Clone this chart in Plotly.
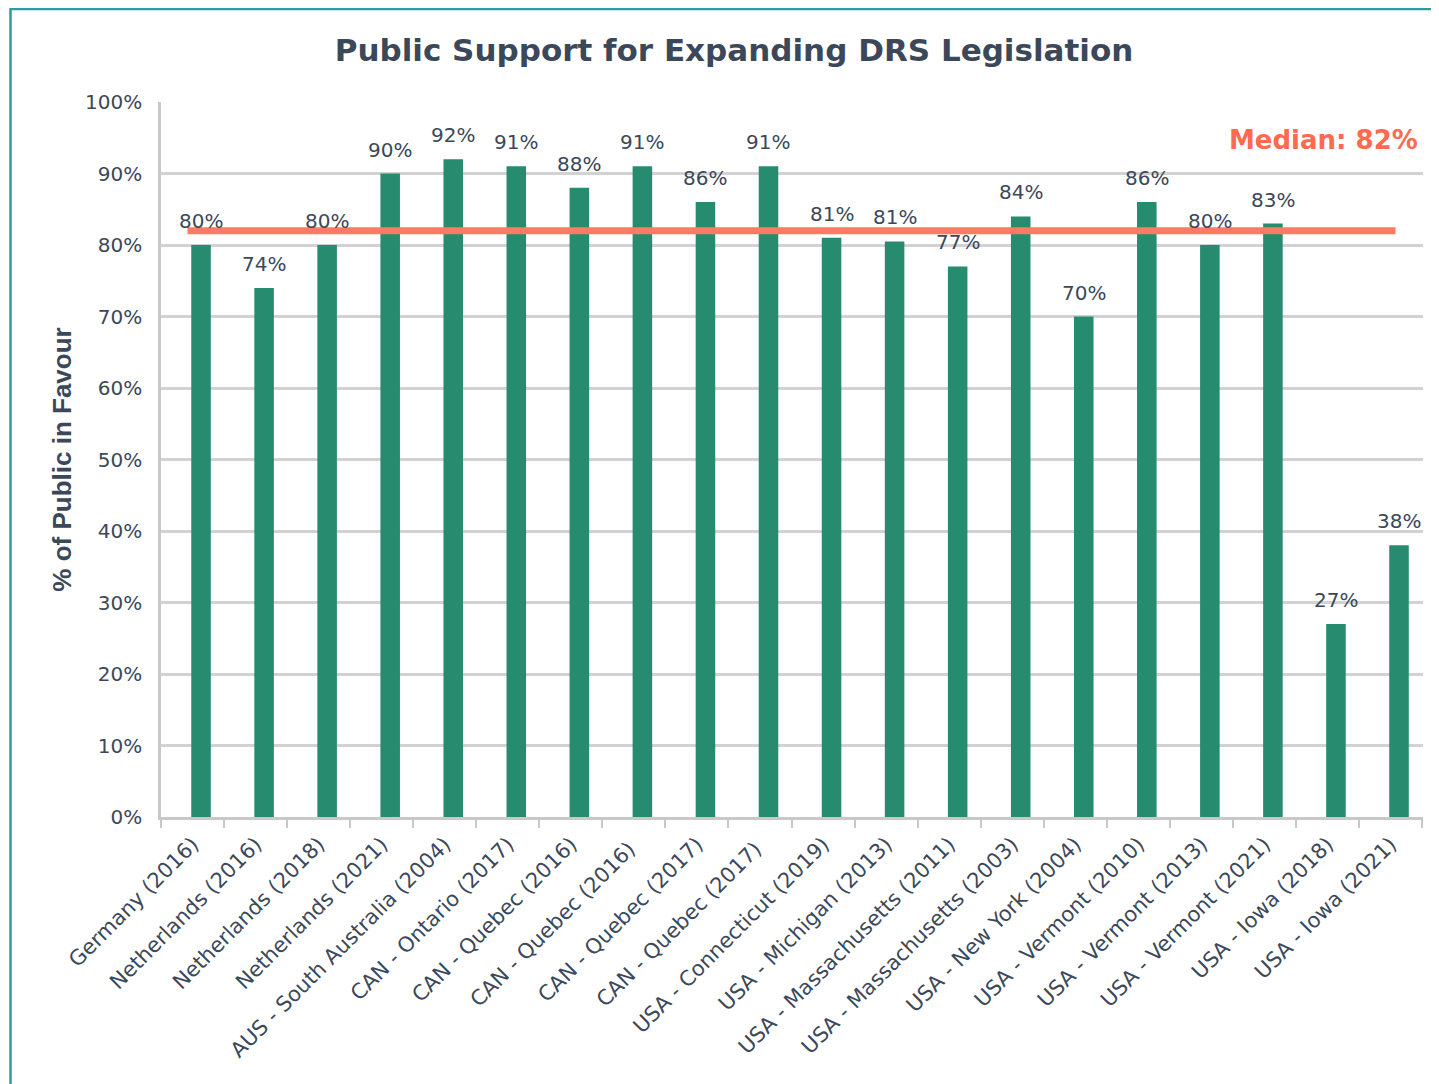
import plotly.graph_objects as go

categories = [
    "Germany (2016)", "Netherlands (2016)", "Netherlands (2018)", "Netherlands (2021)",
    "AUS - South Australia (2004)", "CAN - Ontario (2017)", "CAN - Quebec (2016)",
    "CAN - Quebec (2016) ", "CAN - Quebec (2017)", "CAN - Quebec (2017) ",
    "USA - Connecticut (2019)", "USA - Michigan (2013)", "USA - Massachusetts (2011)",
    "USA - Massachusetts (2003)", "USA - New York (2004)", "USA - Vermont (2010)",
    "USA - Vermont (2013)", "USA - Vermont (2021)", "USA - Iowa (2018)", "USA - Iowa (2021)",
]
values = [80, 74, 80, 90, 92, 91, 88, 91, 86, 91, 81, 80.5, 77, 84, 70, 86, 80, 83, 27, 38]
value_labels = ["80%", "74%", "80%", "90%", "92%", "91%", "88%", "91%", "86%", "91%",
                "81%", "81%", "77%", "84%", "70%", "86%", "80%", "83%", "27%", "38%"]
median_value = 82
median_label = "Median: 82%"
title_text = "Public Support for Expanding DRS Legislation"
y_title = "% of Public in Favour"
y_ticks = [0, 10, 20, 30, 40, 50, 60, 70, 80, 90, 100]
y_tick_labels = ["0%", "10%", "20%", "30%", "40%", "50%", "60%", "70%", "80%", "90%", "100%"]

FONT = "DejaVu Sans"
TEXT = "#3b4859"
BAR = "#268b6f"
MEDIAN = "#ff7a62"

# page geometry (browser body has an 8px margin)
W, H = 1431, 1076
PL, PR, PT, PB = 161, 1423, 102, 817   # plot area in page pixels
PW, PH = PR - PL, PB - PT

fig = go.Figure()
fig.add_trace(go.Bar(
    x=categories, y=values, width=0.31, offset=-0.02,
    marker=dict(color=BAR, line=dict(width=0)),
    hoverinfo="x+y", showlegend=False,
))

for c, v, t in zip(categories, values, value_labels):
    fig.add_annotation(x=c, y=v, text=t, showarrow=False, xshift=8.5, yshift=24,
                       yanchor="middle", font=dict(family=FONT, size=20, color=TEXT))

# median line
fig.add_shape(type="line", xref="x", yref="y", x0=-0.08, x1=19.08,
              y0=median_value, y1=median_value,
              line=dict(color=MEDIAN, width=7), layer="above")
fig.add_annotation(xref="paper", yref="paper", x=1.0, y=(PB - 140) / PH, xshift=-3,
                   text=median_label, showarrow=False, xanchor="right", yanchor="middle",
                   font=dict(family=FONT, size=26, color="#ff6a50", weight="bold"))

# frame
fig.add_shape(type="rect", xref="paper", yref="paper",
              x0=(10.5 - PL) / PW, x1=(1470 - PL) / PW,
              y0=(PB - 1110) / PH, y1=(PB - 9) / PH,
              line=dict(color="#2a9e9b", width=2.5), fillcolor="rgba(0,0,0,0)", layer="below")

fig.update_layout(
    width=W, height=H,
    margin=dict(l=PL - 8, r=W + 8 - PR, t=PT - 8, b=H + 8 - PB),
    paper_bgcolor="white", plot_bgcolor="white",
    title=dict(text=title_text, x=(734 - 8) / W, xanchor="center", y=1 - (50 - 8) / H,
               yanchor="middle",
               font=dict(family=FONT, size=31, color=TEXT, weight="bold")),
)
fig.update_yaxes(
    range=[0, 100], tickmode="array", tickvals=y_ticks, ticktext=y_tick_labels,
    showgrid=True, gridcolor="#d2d2d2", gridwidth=2.5,
    showline=True, linecolor="#c8c8c8", linewidth=2.5,
    ticks="", ticklabelstandoff=12, tickfont=dict(family=FONT, size=20, color=TEXT),
    title=dict(text=y_title, standoff=6,
               font=dict(family="Liberation Sans", size=26, color=TEXT, weight="bold")),
    zeroline=False,
)
fig.update_xaxes(
    type="category", tickangle=-45, tickson="boundaries",
    ticks="outside", ticklen=8, tickcolor="#c8c8c8", tickwidth=2,
    showline=True, linecolor="#c8c8c8", linewidth=2.5, showgrid=False,
    ticklabelstandoff=4,
    tickfont=dict(family=FONT, size=21, color=TEXT),
)

fig.write_html("out.html")
